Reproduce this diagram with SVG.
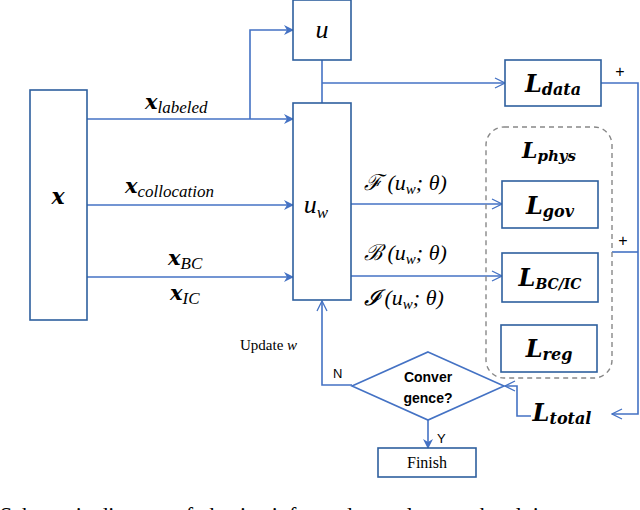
<svg xmlns="http://www.w3.org/2000/svg" width="640" height="510" viewBox="0 0 640 510">
<defs>
<marker id="a" markerWidth="10" markerHeight="10" refX="9" refY="5" orient="auto" markerUnits="userSpaceOnUse"><path d="M0,0 L10,5 L0,10 L3,5 Z" fill="#4472c4"/></marker>
<marker id="o" markerWidth="12" markerHeight="12" refX="11" refY="6" orient="auto" markerUnits="userSpaceOnUse"><path d="M1,1 L11,6 L1,11" fill="none" stroke="#4472c4" stroke-width="1.3"/></marker>
<style>
.b{fill:#fff;stroke:#2e5f9e;stroke-width:1.6}
.l{fill:none;stroke:#4472c4;stroke-width:1.6}
.m{font-family:"DejaVu Serif","Liberation Serif",serif;font-style:italic;font-weight:bold;fill:#000}
.s{font-family:"Liberation Serif",serif;font-style:italic;fill:#000}
.t{font-family:"Liberation Serif",serif;fill:#000}
.h{font-family:"Liberation Sans",Arial,sans-serif;fill:#000}
</style>
</defs>
<g id="connectors">
<path class="l" d="M87,119 H293" marker-end="url(#a)"/>
<path class="l" d="M250,119 V30 H293" marker-end="url(#a)"/>
<path class="l" d="M87,205 H293" marker-end="url(#a)"/>
<path class="l" d="M87,277 H293" marker-end="url(#a)"/>
<path class="l" d="M322,60 V103"/>
<path class="l" d="M322,83 H505" marker-end="url(#o)"/>
<path class="l" d="M351,204 H502" marker-end="url(#o)"/>
<path class="l" d="M351,276 H502" marker-end="url(#o)"/>
<path class="l" d="M601,83 H638 V414 H612" marker-end="url(#o)"/>
<path class="l" d="M612,252 H638"/>
<path class="l" d="M531,416 H517 V386 H505" marker-end="url(#o)"/>
<path class="l" d="M352,385 H322 V301" marker-end="url(#o)"/>
<path class="l" d="M428,420 V448" marker-end="url(#a)"/>
</g>
<g id="x"><rect class="b" x="30" y="90" width="57" height="230"/><text class="m" x="58" y="204" font-size="22" text-anchor="middle">x</text></g>
<g id="u"><rect class="b" x="293" y="0" width="58" height="60"/><text class="s" x="322" y="38" font-size="26" text-anchor="middle">u</text></g>
<g id="uw"><rect class="b" x="293" y="103" width="58" height="197"/><text class="s" x="316" y="213" font-size="26" text-anchor="middle">u<tspan font-size="17" dy="5">w</tspan></text></g>
<g id="inputs">
<text class="m" x="145" y="109" font-size="21">x<tspan class="s" font-weight="normal" font-size="17" dy="4">labeled</tspan></text>
<text class="m" x="125" y="193" font-size="21">x<tspan class="s" font-weight="normal" font-size="17" dy="4">collocation</tspan></text>
<text class="m" x="168" y="265" font-size="21">x<tspan class="s" font-weight="normal" font-size="17" dy="4">BC</tspan></text>
<text class="m" x="170" y="300" font-size="21">x<tspan class="s" font-weight="normal" font-size="17" dy="4">IC</tspan></text>
</g>
<g id="ops">
<text class="s" x="364" y="190" font-size="22">ℱ (u<tspan font-size="15" dy="4">w</tspan><tspan dy="-4">; θ)</tspan></text>
<text class="s" x="364" y="260" font-size="22">ℬ (u<tspan font-size="15" dy="4">w</tspan><tspan dy="-4">; θ)</tspan></text>
<text class="s" x="364" y="305" font-size="22">𝓘 (u<tspan font-size="15" dy="4">w</tspan><tspan dy="-4">; θ)</tspan></text>
</g>
<g id="Ldata"><rect class="b" x="505" y="60" width="96" height="46"/><text class="m" x="553" y="92" font-size="24" text-anchor="middle">L<tspan font-size="16" dy="3">data</tspan></text></g>
<g id="Lphys"><rect x="486" y="127" width="126" height="251" rx="18" fill="none" stroke="#888" stroke-width="1.4" stroke-dasharray="5,4"/><text class="m" x="549" y="158" font-size="22" text-anchor="middle">L<tspan font-size="15" dy="3">phys</tspan></text></g>
<g id="Lgov"><rect class="b" x="502" y="181" width="96" height="47"/><text class="m" x="550" y="214" font-size="24" text-anchor="middle">L<tspan font-size="16" dy="3">gov</tspan></text></g>
<g id="Lbc"><rect class="b" x="502" y="253" width="96" height="49"/><text class="m" x="550" y="286" font-size="24" text-anchor="middle">L<tspan font-size="14" dy="3">BC/IC</tspan></text></g>
<g id="Lreg"><rect class="b" x="501" y="325" width="96" height="47"/><text class="m" x="549" y="357" font-size="24" text-anchor="middle">L<tspan font-size="16" dy="3">reg</tspan></text></g>
<g id="Ltotal"><text class="m" x="562" y="421" font-size="24" text-anchor="middle">L<tspan font-size="16" dy="3">total</tspan></text></g>
<text class="h" x="620" y="77" font-size="16" text-anchor="middle">+</text>
<text class="h" x="623" y="246" font-size="16" text-anchor="middle">+</text>
<g id="conv"><path class="l" d="M428,352 L504,386 L428,420 L352,386 Z" fill="#fff"/><text class="h" x="428" y="382" font-size="14" font-weight="bold" text-anchor="middle">Conver</text><text class="h" x="428" y="403" font-size="14" font-weight="bold" text-anchor="middle">gence?</text></g>
<g id="finish"><rect class="b" x="378" y="448" width="98" height="29"/><text class="t" x="427" y="468" font-size="16" text-anchor="middle">Finish</text></g>
<text class="t" x="240" y="350" font-size="15">Update <tspan class="s">w</tspan></text>
<text class="h" x="333" y="378" font-size="13">N</text>
<text class="h" x="437" y="443" font-size="13">Y</text>
<text class="t" x="0" y="522" font-size="22">Schematic diagram of physics-informed neural network solving</text>
</svg>
